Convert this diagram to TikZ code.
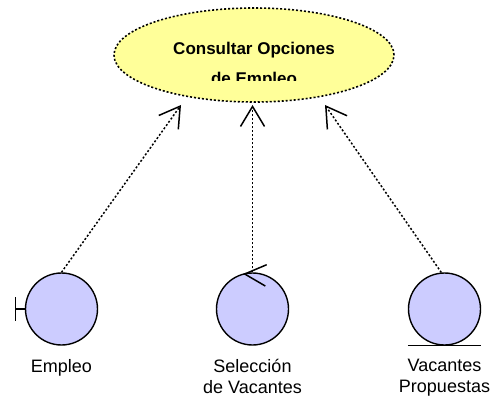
\documentclass[tikz,border=0pt]{standalone}
\usepackage{fontspec}
\setmainfont{Liberation Sans}
\usetikzlibrary{shapes.geometric}
\usetikzlibrary{positioning}
\usetikzlibrary{arrows.meta}
\definecolor{usecasefill}{HTML}{FFFF99}
\definecolor{classfill}{HTML}{CCCCFF}
\tikzset{x=1pt,y=-1pt,
    node distance=13.5pt,
    usecase/.style={
        ellipse,
        draw,
        dash pattern=on 2pt off 2pt,
        line width=1.6pt,
        fill=usecasefill,
        inner sep=0pt,
        minimum width=280pt,
        minimum height=94pt},
    analysis/.style={
        circle,
        draw,
        line width=1.4pt,
        fill=classfill,
        inner sep=0pt,
        minimum size=72pt},
    stereo/.style={
        line width=1.5pt},
    classlabel/.style={
        font=\fontsize{18pt}{20.5pt}\selectfont,
        align=center,
        inner sep=0pt},
    trace/.style={
        draw,
        dash pattern=on 2pt off 2pt,
        line width=1.5pt,
        -{Straight Barb[length=20pt,width=24pt,line width=1.5pt]}}}

\begin{document}
\begin{tikzpicture}
        \useasboundingbox (0,0) rectangle (493,396);

        \node[usecase] (consultar) at (254,55) {};
        \begin{scope}
            \clip (100,0) rectangle (400,81);
            \node[font=\bfseries\fontsize{17pt}{30pt}\selectfont,align=center,inner sep=0pt,anchor=north] (titulo) at (254,42) {Consultar Opciones\\de Empleo};
        \end{scope}

        \node[analysis] (empleo) at (61.5,309) {};
        \node[analysis] (seleccion) at (252.5,309) {};
        \node[analysis] (vacantes) at (444.5,309) {};

        \node[classlabel,below=of empleo] (lempleo) {Empleo};
        \node[classlabel,below=of seleccion] (lseleccion) {Selección\\de Vacantes};
        \node[classlabel,below=of vacantes] (lvacantes) {Vacantes\\Propuestas};

        \coordinate (puntaa) at (181,105);
        \coordinate (puntab) at (252.5,105);
        \coordinate (puntac) at (325,105);

        \draw[trace] (empleo.north) -- (puntaa);
        \draw[trace] (seleccion.north) -- (puntab);
        \draw[trace] (vacantes.95) -- (puntac);

        % boundary
        \draw[stereo] (empleo.west) -- (15.5,309);
        \draw[stereo] (15.5,297) -- (15.5,321);
        % control
        \draw[stereo] (266.7,264.7) -- (244.7,274) -- (265.3,286);
        % entity
        \draw[stereo] (vacantes.west |- vacantes.south) -- (vacantes.east |- vacantes.south);
    \end{tikzpicture}
\end{document}
